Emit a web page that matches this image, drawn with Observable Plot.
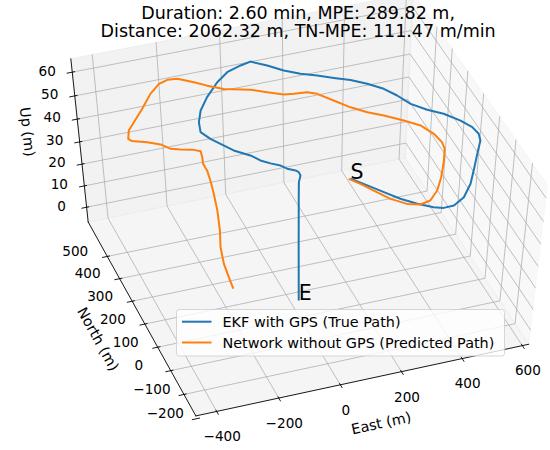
<!DOCTYPE html>
<html><head><meta charset="utf-8">
<script src="https://cdn.jsdelivr.net/npm/d3@7"></script>
<script src="https://cdn.jsdelivr.net/npm/@observablehq/plot@0.6"></script>
<style>body{margin:0;background:#fff}#chart{width:550px;height:450px}</style>
</head><body><div id="chart"></div>
<script>
// ---------------- data ----------------
const titleLines = ["Duration: 2.60 min, MPE: 289.82 m,", "Distance: 2062.32 m, TN-MPE: 111.47 m/min"];
const seriesNames = ["EKF with GPS (True Path)", "Network without GPS (Predicted Path)"];
const seriesColors = ["#1f77b4", "#ff7f0e"];
const axisTitles = ["East (m)", "North (m)", "Up (m)"];
const eastTicks = [-400, -200, 0, 200, 400, 600];
const northTicks = [-200, -100, 0, 100, 200, 300, 400, 500];
const upTicks = [0, 10, 20, 30, 40, 50, 60];
const eastLim = [-466.8, 621.2];
const northLim = [-189.1, 657.4];
const upLim = [-7.05, 65.54];

const ekfEast = [133,163,192,225,262,300,326,358,395,438,479,512,546,549,544,524,490,452,422,400,380,343,303,260,222,178,141,103,67,32,-14,-60,-111,-152,-177,-189,-173,-128,-90,-71,-48,-24,-11,9,15,14,2,-14,-61,-108];
const ekfNorth = [46,0,-46,-83,-114,-139,-149,-148,-134,-89,-31,17,65,83,113,147,186,214,259,302,348,381,409,430,462,482,518,551,590,582,575,542,500,452,407,367,333,270,238,211,192,176,159,146,137,123,108,74,-28,-131];
const ekfUp = [58,59,60,60,60,60,60,60,61,61,61,61,61,62,62,62,62,62,61,61,60,60,60,60,59,59,58,58,57,57,56,56,55,55,55,55,55,55,55,55,55,55,55,55,55,55,54,50,40,30];

const netEast = [128,147,167,198,234,269,303,335,370,408,432,437,430,404,367,321,286,248,218,184,159,119,89,47,4,-69,-110,-141,-182,-208,-235,-269,-310,-349,-377,-389,-382,-338,-304,-283,-257,-220,-203,-205,-210,-203,-200,-202,-206,-215,-231,-239,-237,-237];
const netNorth = [47,11,-33,-76,-107,-119,-112,-89,-43,17,61,88,126,159,191,225,260,292,341,380,394,398,403,425,448,472,498,522,549,562,562,548,514,486,457,434,422,415,396,371,361,349,338,323,306,295,280,253,221,185,146,105,76,45];
const netUp = [58,59,60,60,60,60,60,61,61,61,61,61,61,62,62,62,61,61,60,60,60,60,60,60,60,60,60,60,60,59,58,56,54,52,52,51,51,50,50,50,50,50,50,49,48,46,43,40,36,31,28,25,22,20];

// ---------------- 3D view (matplotlib-style perspective) ----------------
const view = {elev: 51.766, azim: -109.616, dist: 10};
const screen = {cx: 303.976, cy: 203.961, sx: 3582.258, sy: 2605.743, width: 550, height: 450};

const rad = Math.PI / 180, re = view.elev * rad, ra = view.azim * rad;
const eye = [0.5 + Math.cos(ra) * Math.cos(re) * view.dist, 0.5 + Math.sin(ra) * Math.cos(re) * view.dist, 0.5 + Math.sin(re) * view.dist];
const unit = a => { const l = Math.hypot(...a); return a.map(d => d / l); };
const cross = (a, b) => [a[1]*b[2]-a[2]*b[1], a[2]*b[0]-a[0]*b[2], a[0]*b[1]-a[1]*b[0]];
const dot = (a, b) => a[0]*b[0] + a[1]*b[1] + a[2]*b[2];
const nv = unit([eye[0]-0.5, eye[1]-0.5, eye[2]-0.5]);
const uv = unit(cross([0,0,1], nv));
const vv = cross(nv, uv);
const norm = (v, [a, b]) => (v - a) / (b - a);
function project(e, n, u) {
  const P = [norm(e, eastLim), norm(n, northLim), norm(u, upLim)];
  const d = [P[0]-eye[0], P[1]-eye[1], P[2]-eye[2]];
  const w = -dot(nv, d);
  return {x: dot(uv, d) / w, y: dot(vv, d) / w};
}
const [E0, E1] = eastLim, [N0, N1] = northLim, [Z0, Z1] = upLim;
const poly = pts => pts.map(p => project(...p));

// panes
const floorPane = poly([[E0,N0,Z0],[E1,N0,Z0],[E1,N1,Z0],[E0,N1,Z0],[E0,N0,Z0]]);
const backPane = poly([[E0,N1,Z0],[E1,N1,Z0],[E1,N1,Z1],[E0,N1,Z1],[E0,N1,Z0]]);
const sidePane = poly([[E1,N0,Z0],[E1,N1,Z0],[E1,N1,Z1],[E1,N0,Z1],[E1,N0,Z0]]);

// grid lines
const grid = [];
eastTicks.forEach((t, i) => poly([[t,N0,Z0],[t,N1,Z0],[t,N1,Z1]]).forEach(p => grid.push({...p, id: "e" + i})));
northTicks.filter(t => t >= N0 && t <= N1).forEach((t, i) => poly([[E0,t,Z0],[E1,t,Z0],[E1,t,Z1]]).forEach(p => grid.push({...p, id: "n" + i})));
upTicks.forEach((t, i) => poly([[E0,N1,t],[E1,N1,t],[E1,N0,t]]).forEach(p => grid.push({...p, id: "z" + i})));

// axis lines
const axes = [];
poly([[E0,N0,Z0],[E1,N0,Z0]]).forEach(p => axes.push({...p, id: "e"}));
poly([[E0,N0,Z0],[E0,N1,Z0]]).forEach(p => axes.push({...p, id: "n"}));
poly([[E0,N1,Z0],[E0,N1,Z1]]).forEach(p => axes.push({...p, id: "z"}));

// tick marks (out 0.2, in 0.1 of range/12 along the neighbouring axis)
const dE = (E1 - E0) / 1.0417 / 12, dN = (N1 - N0) / 1.0417 / 12;
const fmt = v => v < 0 ? "\u2212" + Math.abs(v) : String(v);
const tickSegs = [], tickLabels = [];
eastTicks.forEach(t => { const a = project(t, N0 - 0.2*dN, Z0), b = project(t, N0 + 0.1*dN, Z0), c = project(t, N0, Z0);
  tickSegs.push({x1: a.x, y1: a.y, x2: b.x, y2: b.y}); tickLabels.push({...c, label: fmt(t), axis: "e"}); });
northTicks.forEach(t => { const a = project(E0 - 0.2*dE, t, Z0), b = project(E0 + 0.1*dE, t, Z0), c = project(E0, t, Z0);
  tickSegs.push({x1: a.x, y1: a.y, x2: b.x, y2: b.y}); tickLabels.push({...c, label: fmt(t), axis: "n"}); });
upTicks.forEach(t => { const a = project(E0 - 0.2*dE, N1, t), b = project(E0 + 0.1*dE, N1, t), c = project(E0, N1, t);
  tickSegs.push({x1: a.x, y1: a.y, x2: b.x, y2: b.y}); tickLabels.push({...c, label: fmt(t), axis: "z"}); });

const axisMid = [
  {...project((E0+E1)/2, N0, Z0), label: axisTitles[0]},
  {...project(E0, (N0+N1)/2, Z0), label: axisTitles[1]},
  {...project(E0, N1, (Z0+Z1)/2), label: axisTitles[2]}
];

const ekf = ekfEast.map((e, i) => project(e, ekfNorth[i], ekfUp[i]));
const net = netEast.map((e, i) => project(e, netNorth[i], netUp[i]));

// ---------------- plot ----------------
const font = "DejaVu Sans";
const tickSize = 13.6, labelSize = 14.4, titleSize = 17.5, legendSize = 14.4;
const paneStyle = c => ({x: "x", y: "y", fill: c, fillOpacity: 0.5, stroke: c, strokeOpacity: 0.5, strokeWidth: 1});
const txt = (axis, dx, dy) => Plot.text(tickLabels.filter(d => d.axis === axis), {x: "x", y: "y", text: "label", dx, dy, fontSize: tickSize, textAnchor: "middle", lineAnchor: "middle", fill: "black"});

const svg = Plot.plot({
  width: screen.width, height: screen.height, margin: 0,
  x: {domain: [-screen.cx / screen.sx, (screen.width - screen.cx) / screen.sx], range: [0, screen.width], axis: null},
  y: {domain: [(screen.cy - screen.height) / screen.sy, screen.cy / screen.sy], range: [screen.height, 0], axis: null},
  style: {fontFamily: font, background: "white", overflow: "hidden"},
  marks: [
    Plot.line(sidePane, paneStyle("rgb(242,242,242)")),
    Plot.line(backPane, paneStyle("rgb(230,230,230)")),
    Plot.line(floorPane, paneStyle("rgb(236,236,236)")),
    Plot.line(grid, {x: "x", y: "y", z: "id", stroke: "#b0b0b0", strokeWidth: 0.8}),
    Plot.line(axes, {x: "x", y: "y", z: "id", stroke: "black", strokeWidth: 0.9}),
    Plot.link(tickSegs, {x1: "x1", y1: "y1", x2: "x2", y2: "y2", stroke: "black", strokeWidth: 0.9}),
    txt("e", 5.5, 25.5),
    txt("n", -32, -4.8),
    txt("z", -25, -1),
    Plot.text([axisMid[0]], {x: "x", y: "y", text: "label", dx: 17.3, dy: 43.8, rotate: -12.2, fontSize: labelSize, lineAnchor: "middle"}),
    Plot.text([axisMid[1]], {x: "x", y: "y", text: "label", dx: -42.7, dy: 23, rotate: 61, fontSize: labelSize, lineAnchor: "middle"}),
    Plot.text([axisMid[2]], {x: "x", y: "y", text: "label", dx: -52.8, dy: -11.7, rotate: 83.6, fontSize: labelSize, lineAnchor: "middle"}),
    Plot.line(ekf, {x: "x", y: "y", stroke: seriesColors[0], strokeWidth: 2, strokeLinejoin: "round", strokeLinecap: "butt"}),
    Plot.line(net, {x: "x", y: "y", stroke: seriesColors[1], strokeWidth: 2, strokeLinejoin: "round", strokeLinecap: "butt"}),
    Plot.text([ekf[0]], {x: "x", y: "y", text: () => "S", textAnchor: "start", lineAnchor: "bottom", fontSize: 20.5}),
    Plot.text([ekf[ekf.length - 1]], {x: "x", y: "y", text: () => "E", textAnchor: "start", lineAnchor: "bottom", fontSize: 20.5}),
    Plot.text([titleLines[0]], {frameAnchor: "top", dx: 22.6, dy: 13, lineAnchor: "middle", fontSize: titleSize}),
    Plot.text([titleLines[1]], {frameAnchor: "top", dx: 22.6, dy: 31.3, lineAnchor: "middle", fontSize: titleSize})
  ]
});

// legend (matplotlib-style box inside the axes)
const lg = d3.select(svg).append("g").attr("font-family", font).attr("font-size", legendSize).attr("text-anchor", "start");
lg.append("rect").attr("x", 176.5).attr("y", 309.5).attr("width", 328).attr("height", 46.5).attr("rx", 2.8)
  .attr("fill", "white").attr("fill-opacity", 0.8).attr("stroke", "#cccccc").attr("stroke-opacity", 0.8);
seriesNames.forEach((name, i) => {
  const cy = 321.7 + i * 20.8;
  lg.append("path").attr("d", `M182,${cy}H211.5`).attr("fill", "none").attr("stroke", seriesColors[i]).attr("stroke-width", 2);
  lg.append("text").attr("x", 222.5).attr("y", cy + 5.2).attr("text-anchor", "start").attr("fill", "black").text(name);
});

document.getElementById("chart").append(svg);
</script>
</body></html>
